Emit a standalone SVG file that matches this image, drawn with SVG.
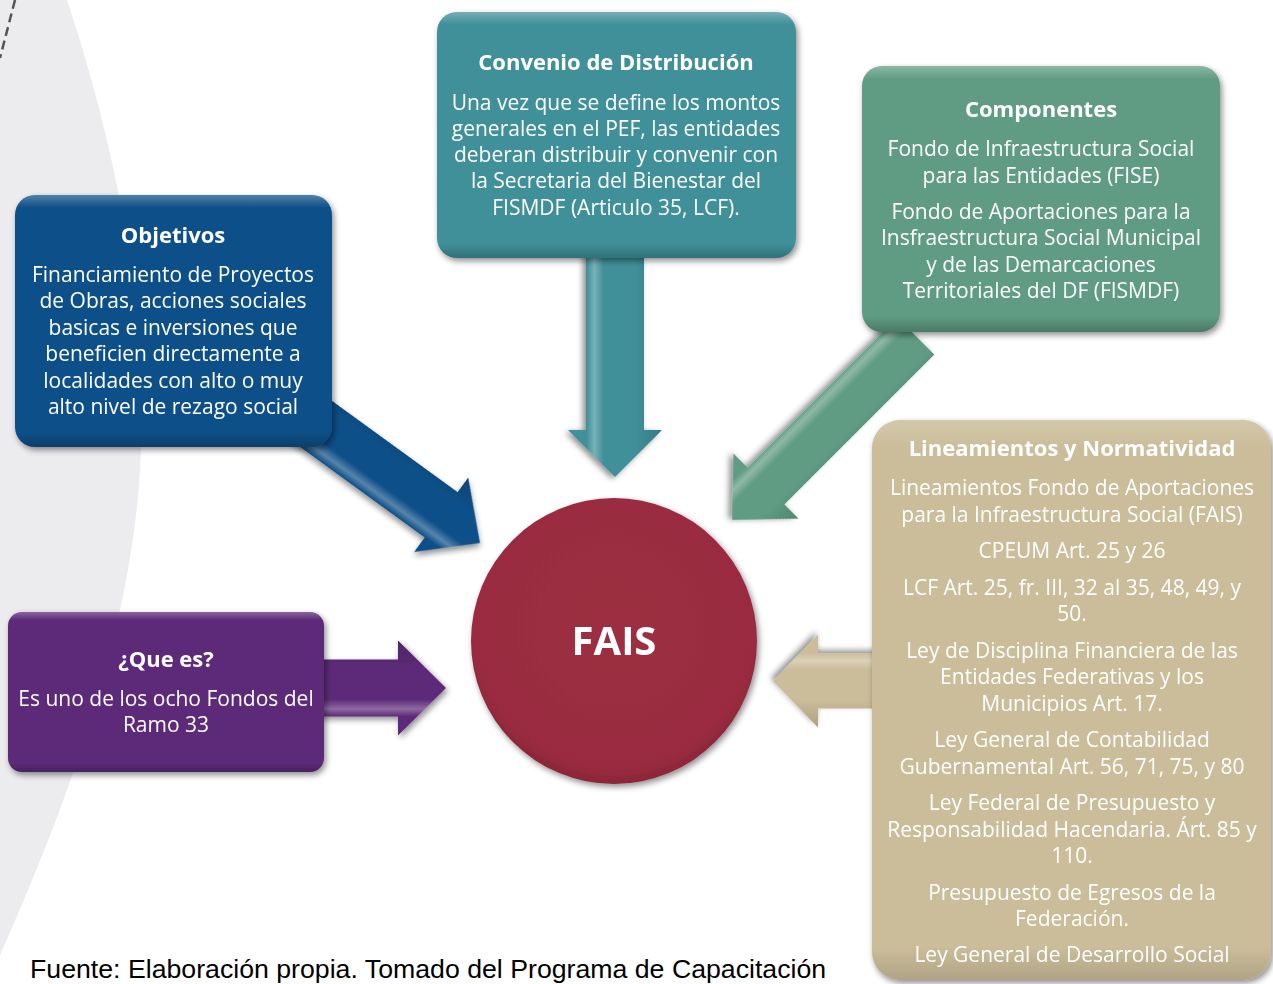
<svg xmlns="http://www.w3.org/2000/svg" width="1273" height="984" viewBox="0 0 1273 984">
<style>
.t{font-family:"Open Sans","Noto Sans","DejaVu Sans",sans-serif;font-size:21px;fill:#ffffff;text-anchor:middle}
.h{font-family:"Open Sans","Noto Sans","DejaVu Sans",sans-serif;font-size:22px;font-weight:bold;fill:#ffffff;text-anchor:middle}
.foot{font-family:"Liberation Sans",Arial,sans-serif;font-size:26.7px;fill:#000000}
</style>
<defs>
<filter id="sh" x="-10%" y="-10%" width="125%" height="125%">
<feGaussianBlur in="SourceAlpha" stdDeviation="3"/>
<feOffset dx="2" dy="3" result="b"/>
<feComponentTransfer><feFuncA type="linear" slope="0.45"/></feComponentTransfer>
<feMerge><feMergeNode/><feMergeNode in="SourceGraphic"/></feMerge>
</filter>
<linearGradient id="bevel" x1="0" y1="0" x2="0" y2="1">
<stop offset="0" stop-color="#ffffff" stop-opacity="0.28"/>
<stop offset="0.05" stop-color="#ffffff" stop-opacity="0"/>
<stop offset="0.94" stop-color="#000000" stop-opacity="0"/>
<stop offset="1" stop-color="#000000" stop-opacity="0.22"/>
</linearGradient>
<linearGradient id="abev" x1="0" y1="0" x2="0" y2="1">
<stop offset="0" stop-color="#000000" stop-opacity="0.15"/>
<stop offset="0.3" stop-color="#000000" stop-opacity="0"/>
<stop offset="0.62" stop-color="#ffffff" stop-opacity="0"/>
<stop offset="0.72" stop-color="#ffffff" stop-opacity="0.3"/>
<stop offset="0.8" stop-color="#ffffff" stop-opacity="0"/>
</linearGradient>
<radialGradient id="cg" cx="0.5" cy="0.45" r="0.55">
<stop offset="0" stop-color="#9d2e42"/>
<stop offset="0.9" stop-color="#992c40"/>
<stop offset="1" stop-color="#8a2537"/>
</radialGradient>
</defs>

<rect x="0" y="0" width="1273" height="984" fill="#ffffff"/>
<g id="background">
<path d="M0 0 L67 0 C110 130 150 300 140 470 C130 640 60 820 0 955 Z" fill="#ececee"/>
<line x1="15" y1="0" x2="0" y2="58" stroke="#555555" stroke-width="2.5" stroke-dasharray="9 5"/>
</g>

<g id="connectors">
<g transform="translate(480,543) rotate(36)" filter="url(#sh)">
<polygon points="0,0 -48,-46 -48,-28 -220,-28 -220,28 -48,28 -48,46" fill="#0f5088"/>
<polygon points="0,0 -48,-46 -48,-28 -220,-28 -220,28 -48,28 -48,46" fill="url(#abev)"/>
</g>
<g transform="translate(615,477) rotate(90)" filter="url(#sh)">
<polygon points="0,0 -47,-47 -47,-29 -227,-29 -227,29 -47,29 -47,47" fill="#40909a"/>
<polygon points="0,0 -47,-47 -47,-29 -227,-29 -227,29 -47,29 -47,47" fill="url(#abev)"/>
</g>
<g transform="translate(732,520) rotate(135)" filter="url(#sh)">
<polygon points="0,0 -48,-46 -48,-26 -260,-26 -260,26 -48,26 -48,46" fill="#5f9c83"/>
<polygon points="0,0 -48,-46 -48,-26 -260,-26 -260,26 -48,26 -48,46" fill="url(#abev)"/>
</g>
<g transform="translate(446,688)" filter="url(#sh)">
<polygon points="0,0 -48,-47.5 -48,-28.5 -140,-28.5 -140,28.5 -48,28.5 -48,47.5" fill="#5d2a79"/>
<polygon points="0,0 -48,-47.5 -48,-28.5 -140,-28.5 -140,28.5 -48,28.5 -48,47.5" fill="url(#abev)"/>
</g>
<g transform="translate(773,681) rotate(180)" filter="url(#sh)">
<polygon points="0,0 -45,-46.5 -45,-27.5 -110,-27.5 -110,27.5 -45,27.5 -45,46.5" fill="#cbbd9a"/>
<polygon points="0,0 -45,-46.5 -45,-27.5 -110,-27.5 -110,27.5 -45,27.5 -45,46.5" fill="url(#abev)"/>
</g>
</g>

<g id="objetivos" filter="url(#sh)">
<rect x="15" y="195" width="317" height="252" rx="20" fill="#0f5088"/>
<rect x="15" y="195" width="317" height="252" rx="20" fill="url(#bevel)"/>
<text class="h" x="173" y="243">Objetivos</text>
<text class="t" x="173" y="282">Financiamiento de Proyectos</text>
<text class="t" x="173" y="308">de Obras, acciones sociales</text>
<text class="t" x="173" y="335">basicas e inversiones que</text>
<text class="t" x="173" y="361">beneficien directamente a</text>
<text class="t" x="173" y="388">localidades con alto o muy</text>
<text class="t" x="173" y="414">alto nivel de rezago social</text>
</g>

<g id="convenio" filter="url(#sh)">
<rect x="437" y="12" width="359" height="246" rx="20" fill="#40909a"/>
<rect x="437" y="12" width="359" height="246" rx="20" fill="url(#bevel)"/>
<text class="h" x="616" y="70">Convenio de Distribución</text>
<text class="t" x="616" y="110">Una vez que se define los montos</text>
<text class="t" x="616" y="136">generales en el PEF, las entidades</text>
<text class="t" x="616" y="162">deberan distribuir y convenir con</text>
<text class="t" x="616" y="188">la Secretaria del Bienestar del</text>
<text class="t" x="616" y="215">FISMDF (Articulo 35, LCF).</text>
</g>

<g id="componentes" filter="url(#sh)">
<rect x="862" y="66" width="358" height="266" rx="20" fill="#5f9c83"/>
<rect x="862" y="66" width="358" height="266" rx="20" fill="url(#bevel)"/>
<text class="h" x="1041" y="117">Componentes</text>
<text class="t" x="1041" y="156">Fondo de Infraestructura Social</text>
<text class="t" x="1041" y="183">para las Entidades (FISE)</text>
<text class="t" x="1041" y="219">Fondo de Aportaciones para la</text>
<text class="t" x="1041" y="245">Insfraestructura Social Municipal</text>
<text class="t" x="1041" y="272">y de las Demarcaciones</text>
<text class="t" x="1041" y="298">Territoriales del DF (FISMDF)</text>
</g>

<g id="lineamientos" filter="url(#sh)">
<rect x="872" y="420" width="399" height="560" rx="28" fill="#cbbd9a"/>
<rect x="872" y="420" width="399" height="560" rx="28" fill="url(#bevel)" opacity="0.6"/>
<text class="h" x="1072" y="456">Lineamientos y Normatividad</text>
<text class="t" x="1072" y="495">Lineamientos Fondo de Aportaciones</text>
<text class="t" x="1072" y="522">para la Infraestructura Social (FAIS)</text>
<text class="t" x="1072" y="558">CPEUM Art. 25 y 26</text>
<text class="t" x="1072" y="595">LCF Art. 25, fr. III, 32 al 35, 48, 49, y</text>
<text class="t" x="1072" y="621">50.</text>
<text class="t" x="1072" y="658">Ley de Disciplina Financiera de las</text>
<text class="t" x="1072" y="684">Entidades Federativas y los</text>
<text class="t" x="1072" y="711">Municipios Art. 17.</text>
<text class="t" x="1072" y="747">Ley General de Contabilidad</text>
<text class="t" x="1072" y="774">Gubernamental Art. 56, 71, 75, y 80</text>
<text class="t" x="1072" y="810">Ley Federal de Presupuesto y</text>
<text class="t" x="1072" y="837">Responsabilidad Hacendaria. Árt. 85 y</text>
<text class="t" x="1072" y="863">110.</text>
<text class="t" x="1072" y="900">Presupuesto de Egresos de la</text>
<text class="t" x="1072" y="926">Federación.</text>
<text class="t" x="1072" y="962">Ley General de Desarrollo Social</text>
</g>

<g id="quees" filter="url(#sh)">
<rect x="8" y="612" width="316" height="160" rx="14" fill="#5d2a79"/>
<rect x="8" y="612" width="316" height="160" rx="14" fill="url(#bevel)"/>
<text class="h" x="166" y="667">¿Que es?</text>
<text class="t" x="166" y="706">Es uno de los ocho Fondos del</text>
<text class="t" x="166" y="732">Ramo 33</text>
</g>

<g id="fais" filter="url(#sh)">
<circle cx="614" cy="641" r="143" fill="url(#cg)"/>
<text x="614" y="655" text-anchor="middle" font-family="'Open Sans','Noto Sans',sans-serif" font-size="40" font-weight="bold" fill="#ffffff">FAIS</text>
</g>

<text class="foot" x="30" y="978">Fuente: Elaboración propia. Tomado del Programa de Capacitación</text>
</svg>
